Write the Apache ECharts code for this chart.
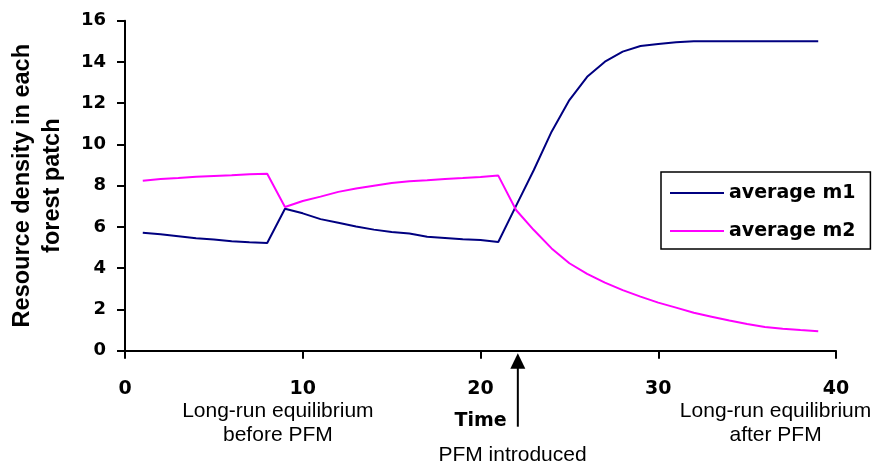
<!DOCTYPE html>
<html><head><meta charset="utf-8">
<script src="https://cdn.jsdelivr.net/npm/echarts@6/dist/echarts.min.js"></script>
<style>html,body{margin:0;padding:0;background:#fff}#c{width:876px;height:468px}</style>
</head><body><div id="c"></div>
<script>
const times = [1,2,3,4,5,6,7,8,9,10,11,12,13,14,15,16,17,18,19,20,21,22,23,24,25,26,27,28,29,30,31,32,33,34,35,36,37,38,39];
const m1 = [5.72,5.65,5.55,5.45,5.39,5.31,5.26,5.22,
            6.88,6.66,6.38,6.2,6.02,5.87,5.76,5.68,5.53,5.47,5.4,5.37,5.27,
            7.02,8.76,10.62,12.15,13.28,14.01,14.5,14.77,14.87,14.95,15.0,15.0,15.0,15.0,15.0,15.0,15.0,15.0];
const m2 = [8.24,8.32,8.37,8.43,8.47,8.51,8.56,8.58,
            6.97,7.26,7.47,7.7,7.86,8.0,8.13,8.21,8.26,8.33,8.37,8.42,8.49,
            6.82,5.85,4.96,4.24,3.72,3.3,2.94,2.62,2.33,2.09,1.84,1.65,1.46,1.29,1.15,1.07,1.0,0.94];
const seriesNames = ['average m1','average m2'];
const xTitle = 'Time';
const yTitle = 'Resource density in each\nforest patch';
const noteBefore = 'Long-run equilibrium\nbefore PFM';
const noteAfter = 'Long-run equilibrium\nafter PFM';
const noteIntro = 'PFM introduced';
const introX = 22.1, beforeX = 8.6, afterX = 36.6, introTextX = 21.8;

const chart = echarts.init(document.getElementById('c'), null, {renderer:'canvas'});
const boldFont = {fontFamily:'DejaVu Sans', fontWeight:'bold', color:'#000'};
const axisStyle = {lineStyle:{color:'#000', width:2}};
chart.setOption({
  animation:false,
  backgroundColor:'#fff',
  grid:{left:125, right:40, top:20.7, bottom:117.3, containLabel:false, outerBoundsMode:'none'},
  xAxis:{type:'value', min:0, max:40, interval:10,
    axisLine:{show:true, onZero:false, ...axisStyle},
    axisTick:{show:true, length:8, inside:false, ...axisStyle},
    splitLine:{show:false},
    axisLabel:{...boldFont, fontSize:19, margin:29},
    name:xTitle, nameLocation:'middle', nameGap:61,
    nameTextStyle:{...boldFont, fontSize:19}},
  yAxis:{type:'value', min:0, max:16, interval:2,
    axisLine:{show:true, onZero:false, ...axisStyle},
    axisTick:{show:true, length:8, ...axisStyle},
    splitLine:{show:false},
    axisLabel:{...boldFont, fontSize:18, margin:19},
    name:yTitle, nameLocation:'middle', nameRotate:90, nameGap:57,
    nameTextStyle:{fontFamily:'Liberation Sans', fontWeight:'bold', fontSize:23.5, lineHeight:30, color:'#000', align:'center'}},
  legend:{data:seriesNames, orient:'vertical', left:661, top:172,
    padding:[10,15,7,9], itemWidth:54, itemHeight:2, itemGap:16, icon:'rect',
    borderColor:'#000', borderWidth:1.5, backgroundColor:'#fff',
    textStyle:{...boldFont, fontSize:19, lineHeight:22}},
  series:[
    {name:seriesNames[0], type:'line', symbol:'none', color:'#000080',
     lineStyle:{width:2, color:'#000080'}, data:times.map((t,i)=>[t,m1[i]])},
    {name:seriesNames[1], type:'line', symbol:'none', color:'#ff00ff',
     lineStyle:{width:2, color:'#ff00ff'}, data:times.map((t,i)=>[t,m2[i]])}
  ]
});

const p = v => chart.convertToPixel({gridIndex:0}, [v, 0]);
const ax = p(introX);
const noteFont = '21px "Liberation Sans"';
chart.setOption({graphic:[
  {type:'line', silent:true, shape:{x1:ax[0], y1:ax[1]+16, x2:ax[0], y2:ax[1]+76}, style:{stroke:'#000', lineWidth:2}},
  {type:'polygon', silent:true, shape:{points:[[ax[0], ax[1]+2.6],[ax[0]-7.5, ax[1]+18],[ax[0]+7.5, ax[1]+18]]}, style:{fill:'#000'}},
  {type:'text', silent:true, x:p(beforeX)[0], y:399, style:{text:noteBefore, font:noteFont, fill:'#000', align:'center', verticalAlign:'top', lineHeight:24}},
  {type:'text', silent:true, x:p(afterX)[0], y:399, style:{text:noteAfter, font:noteFont, fill:'#000', align:'center', verticalAlign:'top', lineHeight:24}},
  {type:'text', silent:true, x:p(introTextX)[0], y:443, style:{text:noteIntro, font:noteFont, fill:'#000', align:'center', verticalAlign:'top', lineHeight:24}}
]});
</script></body></html>
